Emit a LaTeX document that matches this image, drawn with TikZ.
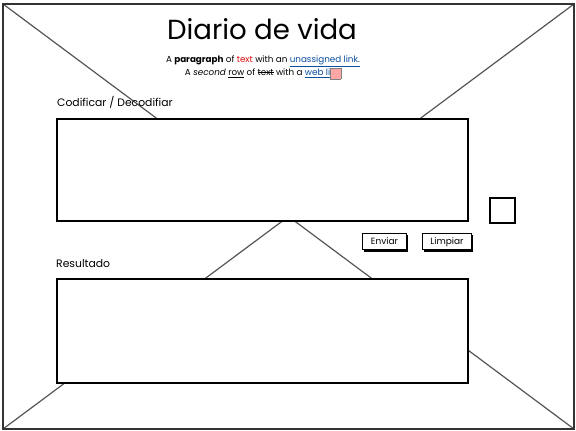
\documentclass[tikz,border=0pt]{standalone}
\usepackage{fontspec}
\setmainfont{Poppins}
\definecolor{linkblue}{HTML}{0B4FA0}
\definecolor{txtred}{HTML}{E01010}
\definecolor{framegray}{HTML}{333333}
\definecolor{diaggray}{HTML}{555555}
\newlength{\strkw}
\newcommand{\mystrike}[1]{\settowidth{\strkw}{#1}\rlap{\rule[2.6pt]{\strkw}{0.7pt}}#1}
\newcommand{\myul}[1]{\underline{#1}}
\begin{document}
\begin{tikzpicture}[x=1pt,y=-1pt,
  frame/.style={draw=framegray,line width=1.6pt},
  diag/.style={draw=diaggray,line width=1.2pt},
  field/.style={draw=black,fill=white,line width=1.6pt},
  btn/.style={draw=black,fill=white,line width=1pt,inner sep=0pt,minimum width=44pt,minimum height=16pt,font=\fontsize{9}{10}\selectfont},
  lbl/.style={anchor=west,inner sep=0pt,font=\fontsize{10.8}{12}\selectfont},
]
\useasboundingbox (0,0) rectangle (576,431);
\fill[white] (0,0) rectangle (576,431);
% frame corners
\coordinate (tl) at (3,4);
\coordinate (tr) at (574,4);
\coordinate (bl) at (3,429);
\coordinate (br) at (574,429);
\draw[diag] (tl) -- (br);
\draw[diag] (tr) -- (bl);
\draw[frame] (tl) rectangle (br);
% title
\node[inner sep=0pt] (title) at (262,29) {\fontsize{27.6}{30}\selectfont Diario de vida};
\node[inner sep=0pt,align=center,font=\fontsize{8.8}{10}\selectfont] (para) at (263,67.5)
 {A \textbf{paragraph} of \textcolor{txtred}{text} with an \textcolor{linkblue}{\myul{unassigned link.}}\\
  A \textit{second} \myul{row} of \mystrike{text} with a \textcolor{linkblue}{\myul{web li}}\fcolorbox{gray}{red!35}{\rule{0pt}{4pt}\rule{4pt}{0pt}}};
% labels
\node[lbl] (lab1) at (57,102) {Codificar / Decodifiar};
\node[lbl] (lab2) at (56,264) {Resultado};
% fields
\draw[field] (57,119) rectangle (468,221);
\draw[field] (57,279) rectangle (468,383);
% checkbox
\draw[field] (490,198) rectangle (515,223);
% buttons
\fill[black] (364,235) rectangle (408,252);
\node[btn,anchor=north west,text depth=0pt,text height=6.5pt] (enviar) at (362,233) {Enviar};
\fill[black] (424,235) rectangle (473,252);
\node[btn,anchor=north west,minimum width=49pt,text depth=0pt,text height=6.5pt] (limpiar) at (422,233) {Limpiar};
\end{tikzpicture}
\end{document}
